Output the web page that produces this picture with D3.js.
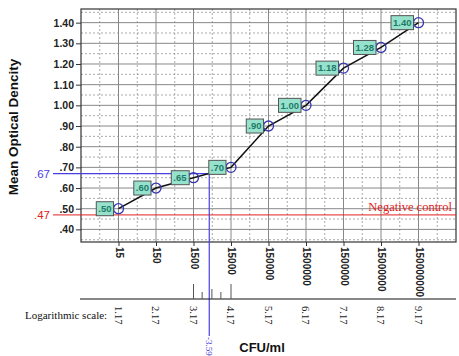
<!DOCTYPE html>
<html><head><meta charset="utf-8">
<script src="https://cdn.jsdelivr.net/npm/d3@7"></script>
<style>body{margin:0;background:#fff}svg{display:block}</style>
</head><body>
<script>
const categories = ["15","150","1500","15000","150000","1500000","1500000","15000000","150000000"];
const values = [0.50,0.60,0.65,0.70,0.90,1.00,1.18,1.28,1.40];
const valueLabels = [".50",".60",".65",".70",".90","1.00","1.18","1.28","1.40"];
const yTicks = [0.4,0.5,0.6,0.7,0.8,0.9,1.0,1.1,1.2,1.3,1.4];
const yTickLabels = [".40",".50",".60",".70",".80",".90","1.00","1.10","1.20","1.30","1.40"];
const logLabels = ["1.17","2.17","3.17","4.17","5.17","6.17","7.17","8.17","9.17"];
const logValues = [1.17,2.17,3.17,4.17,5.17,6.17,7.17,8.17,9.17];
const rulerMarks = [3.17,3.40,3.66,3.90,4.17];
const rulerHeights = [15,7,10,7,15];
const sampleOD = 0.67, sampleLog = 3.59, sampleLabel = "-3.59";
const negControl = 0.47, negLabel = "Negative control";

const W=459,H=356;
const L=81,R=456,T=9,B=242;
const svg=d3.select("body").append("svg").attr("width",W).attr("height",H);

const x=d3.scalePoint().domain(d3.range(categories.length)).range([L,R]).padding(1);
const step=x.step();
const xl=d3.scaleLinear().domain([logValues[0],logValues[logValues.length-1]]).range([x(0),x(categories.length-1)]);
const y=d3.scaleLinear().domain([0.339,1.466]).range([B,T]);

const g=svg.append("g");
// dashed grid
const hd=d3.range(0.35,1.46,0.1);
g.selectAll(".hd").data(hd).join("line").attr("x1",L).attr("x2",R).attr("y1",d=>y(d)).attr("y2",d=>y(d))
 .attr("stroke","#aaa").attr("stroke-dasharray","2,2").attr("stroke-width",1);
const vd=d3.range(-1,categories.length).map(i=>x(0)+(i+0.5)*step);
g.selectAll(".vd").data(vd).join("line").attr("x1",d=>d).attr("x2",d=>d).attr("y1",T).attr("y2",B)
 .attr("stroke","#aaa").attr("stroke-dasharray","2,2").attr("stroke-width",1);
// solid grid
g.selectAll(".hs").data(yTicks).join("line").attr("x1",L).attr("x2",R).attr("y1",d=>y(d)).attr("y2",d=>y(d))
 .attr("stroke","#888").attr("stroke-width",1);
g.selectAll(".vs").data(d3.range(categories.length)).join("line").attr("x1",d=>x(d)).attr("x2",d=>x(d)).attr("y1",T).attr("y2",B)
 .attr("stroke","#888").attr("stroke-width",1);
// frame
g.append("rect").attr("x",L).attr("y",T).attr("width",R-L).attr("height",B-T).attr("fill","none").attr("stroke","#333").attr("stroke-width",1.2);

// y axis
const ya=svg.append("g").attr("transform",`translate(${L},0)`)
 .call(d3.axisLeft(y).tickValues(yTicks).tickFormat((d,i)=>yTickLabels[i]).tickSize(5).tickPadding(2));
ya.select(".domain").remove();
ya.selectAll("text").attr("font-family","Liberation Sans, Arial").attr("font-weight","bold").attr("font-size",10.5).attr("fill","#222");
ya.selectAll("line").attr("stroke","#333");

// x axis
const xa=svg.append("g").attr("transform",`translate(0,${B})`)
 .call(d3.axisBottom(x).tickFormat(i=>categories[i]).tickSize(4));
xa.select(".domain").remove();
xa.selectAll("line").attr("stroke","#333");
xa.selectAll("text").attr("font-family","Liberation Sans, Arial").attr("font-weight","bold").attr("font-size",10).attr("fill","#222")
 .attr("transform","rotate(90)").attr("text-anchor","start").attr("dy","0.35em").attr("x",5).attr("y",0);

// reference lines
svg.append("line").attr("x1",53).attr("x2",R).attr("y1",y(negControl)).attr("y2",y(negControl)).attr("stroke","#e02020").attr("stroke-width",1);
svg.append("text").attr("x",50).attr("y",y(negControl)).attr("dy","0.35em").attr("text-anchor","end")
 .attr("font-family","Liberation Sans, Arial").attr("font-size",11.5).attr("fill","#e02020").text(".47");
svg.append("text").attr("x",452).attr("y",y(negControl)-4).attr("text-anchor","end")
 .attr("font-family","Liberation Serif, Times New Roman").attr("font-size",12.5).attr("fill","#e02020").text(negLabel);

const sx=xl(sampleLog);
svg.append("line").attr("x1",53).attr("x2",sx).attr("y1",y(sampleOD)).attr("y2",y(sampleOD)).attr("stroke","#4a3ee0").attr("stroke-width",1.2);
svg.append("line").attr("x1",sx).attr("x2",sx).attr("y1",y(sampleOD)).attr("y2",336).attr("stroke","#4a3ee0").attr("stroke-width",1.2);
svg.append("text").attr("x",50).attr("y",y(sampleOD)).attr("dy","0.35em").attr("text-anchor","end")
 .attr("font-family","Liberation Sans, Arial").attr("font-size",11.5).attr("fill","#4a3ee0").text(".67");
svg.append("text").attr("transform",`translate(${sx},337) rotate(90)`).attr("dy","0.35em")
 .attr("font-family","Liberation Serif, Times New Roman").attr("font-size",9).attr("fill","#4a3ee0").text(sampleLabel);

// data line
svg.append("path").datum(values).attr("fill","none").attr("stroke","#111").attr("stroke-width",1.5)
 .attr("d",d3.line().x((d,i)=>x(i)).y(d=>y(d)));
svg.selectAll(".pt").data(values).join("circle").attr("cx",(d,i)=>x(i)).attr("cy",d=>y(d)).attr("r",5)
 .attr("fill","none").attr("stroke","#3535b0").attr("stroke-width",1.3);
// labels
const lab=svg.selectAll(".lab").data(values).join("g").attr("transform",(d,i)=>`translate(${x(i)-5},${y(d)})`);
lab.each(function(d,i){
  const gg=d3.select(this);
  const t=gg.append("text").attr("text-anchor","end").attr("x",-2).attr("dy","0.35em")
   .attr("font-family","Liberation Sans, Arial").attr("font-weight","bold").attr("font-size",9.5).attr("fill","#1e7a68").text(valueLabels[i]);
  const bb=t.node().getBBox();
  gg.insert("rect","text").attr("x",bb.x-2).attr("y",-7).attr("width",bb.width+4).attr("height",14)
   .attr("fill","#96e2cc").attr("stroke","#555").attr("stroke-width",1);
});

// log scale axis
const ly=299;
svg.append("line").attr("x1",80).attr("x2",R).attr("y1",ly).attr("y2",ly).attr("stroke","#111").attr("stroke-width",1);
svg.selectAll(".rm").data(rulerMarks).join("line").attr("x1",d=>xl(d)).attr("x2",d=>xl(d))
 .attr("y1",(d,i)=>ly-rulerHeights[i]).attr("y2",ly).attr("stroke","#555").attr("stroke-width",1);
svg.selectAll(".ll").data(logValues).join("text").attr("transform",d=>`translate(${xl(d)},306) rotate(90)`).attr("dy","0.35em")
 .attr("font-family","Liberation Serif, Times New Roman").attr("font-size",10.5).attr("fill","#222").text((d,i)=>logLabels[i]);
svg.append("text").attr("x",25).attr("y",319).attr("font-family","Liberation Serif, Times New Roman").attr("font-size",11).attr("fill","#111").text("Logarithmic scale:");

// titles
svg.append("text").attr("transform",`translate(18,127) rotate(-90)`).attr("text-anchor","middle")
 .attr("font-family","Liberation Sans, Arial").attr("font-weight","bold").attr("font-size",13.5).attr("fill","#111").text("Mean Optical Dencity");
svg.append("text").attr("x",262).attr("y",352).attr("text-anchor","middle")
 .attr("font-family","Liberation Sans, Arial").attr("font-weight","bold").attr("font-size",13).attr("fill","#111").text("CFU/ml");
</script>
</body></html>
